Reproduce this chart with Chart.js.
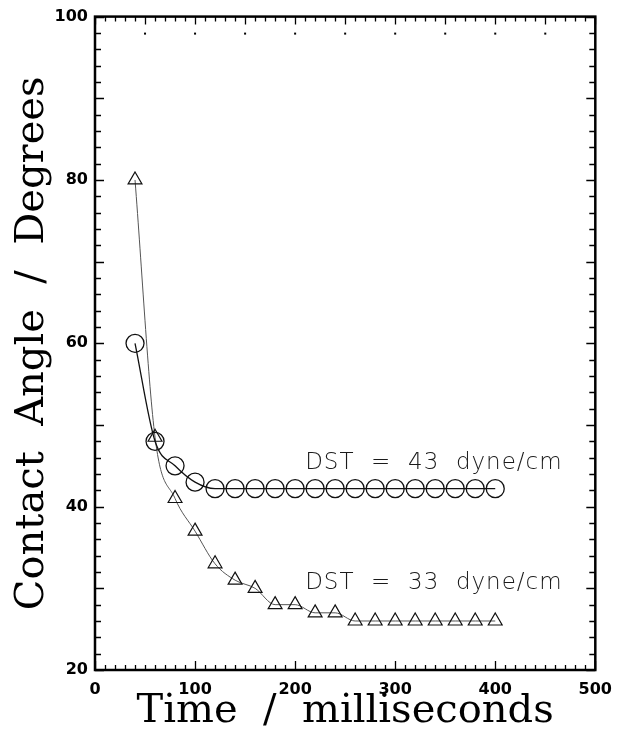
<!DOCTYPE html>
<html>
<head>
<meta charset="utf-8">
<script src="https://cdn.jsdelivr.net/npm/chart.js@4/dist/chart.umd.min.js"></script>
<style>
    html, body { margin: 0; padding: 0; background: #fff; }
</style>
</head>
<body>
<canvas id="myChart" width="622" height="735"></canvas>
<script>
// time in milliseconds
var timeMs = [40, 60, 80, 100, 120, 140, 160, 180, 200, 220, 240, 260, 280, 300, 320, 340, 360, 380, 400];
// contact angle in degrees, DST = 43 dyne/cm (circles)
var angleDst43 = [60, 48, 45, 43, 42.2, 42.2, 42.2, 42.2, 42.2, 42.2, 42.2, 42.2, 42.2, 42.2, 42.2, 42.2, 42.2, 42.2, 42.2];
// contact angle in degrees, DST = 33 dyne/cm (triangles)
var angleDst33 = [80, 48.5, 41, 37, 33, 31, 30, 28, 28, 27, 27, 26, 26, 26, 26, 26, 26, 26, 26];
var xTickValues = [0, 100, 200, 300, 400, 500];
var yTickValues = [20, 40, 60, 80, 100];
var seriesText = ["DST  =  43  dyne/cm", "DST  =  33  dyne/cm"];

function toPoints(xs, ys) {
    var pts = [];
    for (var i = 0; i < xs.length; i++) {
        pts.push({x: xs[i], y: ys[i]});
    }
    return pts;
}

// inward ticks, frame box and the two curve labels
var frameTicks = {
    id: 'frameTicks',
    afterDraw: function (chart) {
        var ctx = chart.ctx;
        var a = chart.chartArea;
        var xs = chart.scales.x;
        var ys = chart.scales.y;
        var v, p, len;
        ctx.save();
        ctx.strokeStyle = '#000';
        ctx.lineWidth = 1.3;
        ctx.beginPath();
        for (v = 0; v <= 500; v += 10) {
            p = Math.round(xs.getPixelForValue(v)) + 0.5;
            len = (v % 100 === 0) ? 9 : 5;
            ctx.moveTo(p, a.bottom);
            ctx.lineTo(p, a.bottom - len);
            len = (v % 50 === 0) ? 8 : 5;
            ctx.moveTo(p, a.top);
            ctx.lineTo(p, a.top + len);
        }
        for (v = 20; v <= 100; v += 2) {
            p = Math.round(ys.getPixelForValue(v)) + 0.5;
            len = (v % 10 === 0) ? 9 : 6;
            ctx.moveTo(a.left, p);
            ctx.lineTo(a.left + len, p);
            ctx.moveTo(a.right, p);
            ctx.lineTo(a.right - len, p);
        }
        ctx.stroke();

        // small dots under the top edge
        ctx.fillStyle = '#000';
        for (v = 50; v < 500; v += 50) {
            p = xs.getPixelForValue(v);
            ctx.fillRect(p - 1, a.top + 16, 2, 2);
        }

        ctx.lineWidth = 2.5;
        ctx.strokeRect(a.left, a.top, a.right - a.left, a.bottom - a.top);

        ctx.fillStyle = '#1a1a1a';
        ctx.font = '200 23px "DejaVu Sans"';
        ctx.letterSpacing = '1px';
        ctx.textAlign = 'left';
        ctx.textBaseline = 'middle';
        ctx.fillText(seriesText[0], xs.getPixelForValue(210), ys.getPixelForValue(45.4));
        ctx.fillText(seriesText[1], xs.getPixelForValue(210), ys.getPixelForValue(30.7));
        ctx.restore();
    }
};

var ctx = document.getElementById('myChart').getContext('2d');
var myChart = new Chart(ctx, {
    type: 'line',
    data: {
        datasets: [{
            label: 'DST = 43 dyne/cm',
            data: toPoints(timeMs, angleDst43),
            borderColor: '#111',
            borderWidth: 1.3,
            pointStyle: 'circle',
            pointRadius: 9,
            pointBorderWidth: 1.3,
            pointBorderColor: '#111',
            pointBackgroundColor: 'rgba(0,0,0,0)',
            cubicInterpolationMode: 'monotone',
            fill: false
        }, {
            label: 'DST = 33 dyne/cm',
            data: toPoints(timeMs, angleDst33),
            borderColor: '#555',
            borderWidth: 1,
            pointStyle: 'triangle',
            pointRadius: 8,
            pointBorderWidth: 1.2,
            pointBorderColor: '#111',
            pointBackgroundColor: 'rgba(0,0,0,0)',
            cubicInterpolationMode: 'monotone',
            fill: false
        }]
    },
    options: {
        responsive: false,
        animation: false,
        devicePixelRatio: 1,
        layout: {padding: {top: 14, right: 21, left: 0, bottom: 0}},
        plugins: {
            legend: {display: false},
            tooltip: {enabled: false}
        },
        scales: {
            x: {
                type: 'linear',
                min: 0,
                max: 500,
                afterBuildTicks: function (scale) {
                    scale.ticks = xTickValues.map(function (v) { return {value: v}; });
                },
                afterFit: function (scale) { scale.height = 65; },
                grid: {display: false, drawTicks: false},
                border: {display: false},
                ticks: {
                    padding: 10,
                    color: '#000',
                    maxRotation: 0,
                    font: {family: '"DejaVu Sans"', size: 16, weight: 'bold'}
                },
                title: {
                    display: true,
                    text: 'Time  /  milliseconds',
                    color: '#000',
                    padding: {top: 0, bottom: 3},
                    font: {family: '"DejaVu Serif"', size: 40, lineHeight: 1}
                }
            },
            y: {
                min: 20,
                max: 100,
                afterBuildTicks: function (scale) {
                    scale.ticks = yTickValues.map(function (v) { return {value: v}; });
                },
                afterFit: function (scale) { scale.width = 95; },
                grid: {display: false, drawTicks: false},
                border: {display: false},
                ticks: {
                    padding: 7,
                    color: '#000',
                    font: {family: '"DejaVu Sans"', size: 16, weight: 'bold'}
                },
                title: {
                    display: true,
                    text: 'Contact  Angle  /  Degrees',
                    color: '#000',
                    padding: {top: 13, bottom: 0},
                    font: {family: '"DejaVu Serif"', size: 40, lineHeight: 1}
                }
            }
        }
    },
    plugins: [frameTicks]
});
</script>
</body>
</html>
